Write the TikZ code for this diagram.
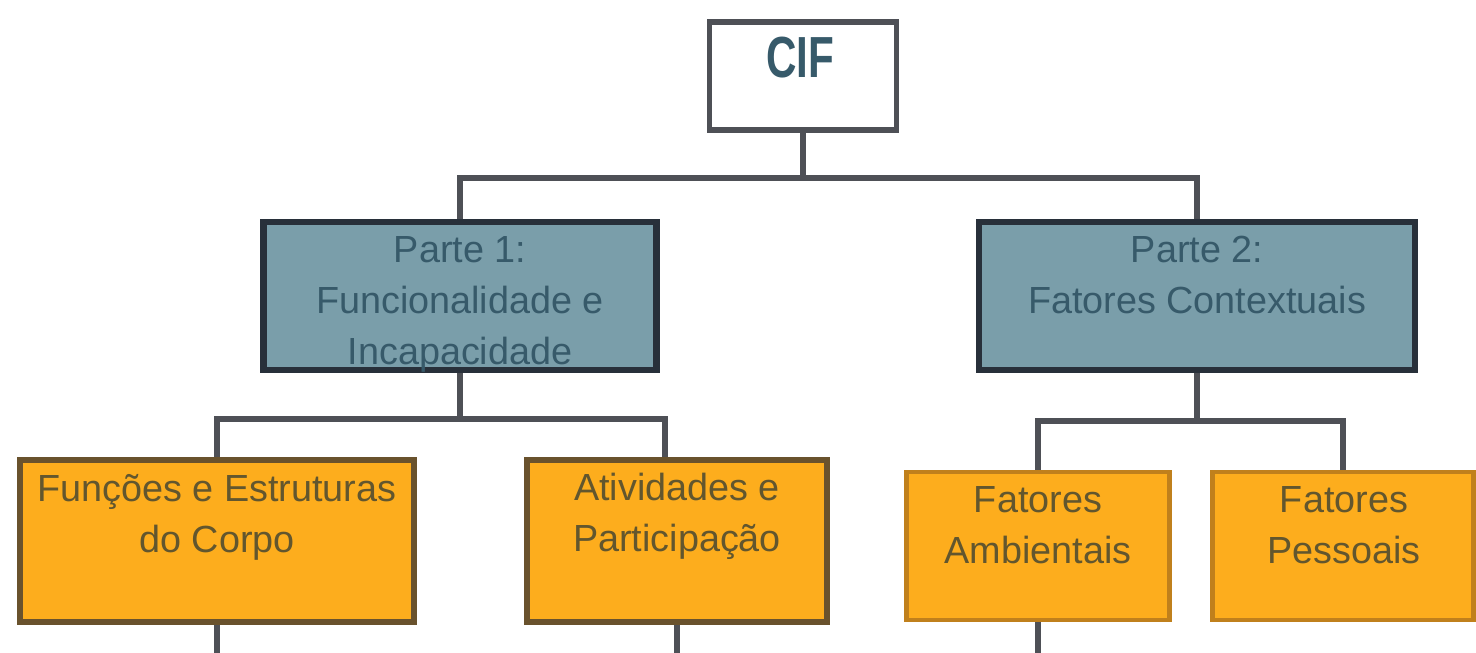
\documentclass[tikz,border=0pt]{standalone}
\usepackage{fontspec}
\setmainfont{Liberation Sans}
\usepackage{tikz}
\definecolor{partfill}{RGB}{122,158,170}
\definecolor{partline}{RGB}{40,48,58}
\definecolor{parttxt}{RGB}{55,90,106}
\definecolor{compfill}{RGB}{253,173,29}
\definecolor{compline}{RGB}{105,82,45}
\definecolor{ctxline}{RGB}{192,128,28}
\definecolor{comptxt}{RGB}{98,86,46}
\definecolor{linkgray}{RGB}{78,80,86}
\tikzset{root/.style={rectangle,draw=linkgray,fill=white,line width=3pt}}
\tikzset{part/.style={rectangle,draw=partline,fill=partfill,line width=3.5pt}}
\tikzset{comp/.style={rectangle,draw=compline,fill=compfill,line width=3.5pt}}
\tikzset{ctx/.style={rectangle,draw=ctxline,fill=compfill,line width=2.8pt}}
\tikzset{roottext/.style={inner sep=0pt,text=parttxt,font=\fontsize{30}{36}\selectfont\bfseries}}
\tikzset{parttext/.style={inner sep=0pt,align=center,text=parttxt,font=\fontsize{21.5}{29}\selectfont}}
\tikzset{comptext/.style={inner sep=0pt,align=center,text=comptxt,font=\fontsize{21.5}{29}\selectfont}}
\tikzset{link/.style={draw=linkgray,line width=3pt}}

\begin{document}
\begin{tikzpicture}[x=0.02cm,y=-0.02cm]
  \useasboundingbox (0,0) rectangle (1476,652);
  \clip (0,0) rectangle (1476,652);
  \node[root,minimum width=3.74cm,minimum height=2.16cm] (cif) at (803,76) {};
  \node[part,minimum width=7.86cm,minimum height=2.96cm] (p1) at (460,296) {};
  \node[part,minimum width=8.72cm,minimum height=2.96cm] (p2) at (1197,296) {};
  \node[comp,minimum width=7.88cm,minimum height=3.24cm] (ba) at (217,541) {};
  \node[comp,minimum width=6.0cm,minimum height=3.24cm] (bb) at (677,541) {};
  \node[ctx,minimum width=5.26cm,minimum height=2.96cm] (bc) at (1038,546) {};
  \node[ctx,minimum width=5.22cm,minimum height=2.96cm] (bd) at (1343,546) {};
  \node[roottext,anchor=north] (t0) at (800,37) {\scalebox{0.8}[1.1]{CIF}};
  \node[parttext,anchor=north] (t1) at (460,236) {Parte 1:\\Funcionalidade e\\Incapacidade};
  \node[parttext,anchor=north] (t2) at (1197,236) {Parte 2:\\Fatores Contextuais};
  \node[comptext,anchor=north] (ta) at (217,474) {Funções e Estruturas\\do Corpo};
  \node[comptext,anchor=north] (tb) at (677,473) {Atividades e\\Participação};
  \node[comptext,anchor=north] (tc) at (1038,486) {Fatores\\Ambientais};
  \node[comptext,anchor=north] (td) at (1344,486) {Fatores\\Pessoais};
  \coordinate (j0) at (803,178);
  \draw[link] (cif) -- (j0);
  \draw[link] (p1) |- (j0) -| (p2);
  \coordinate (j1) at (460,419);
  \coordinate (j1b) at (665,419);
  \draw[link] (p1) -- (j1);
  \draw[link] (ba) |- (j1b) -- (j1b |- bb.north);
  \coordinate (j2) at (1197,421);
  \draw[link] (p2) -- (j2);
  \draw[link] (bc) |- (j2) -| (bd);
  \coordinate (ea) at (217,670);
  \coordinate (eb) at (677,670);
  \coordinate (ec) at (1038,670);
  \draw[link] (ba) -- (ea);
  \draw[link] (bb) -- (eb);
  \draw[link] (bc) -- (ec);
\end{tikzpicture}
\end{document}
